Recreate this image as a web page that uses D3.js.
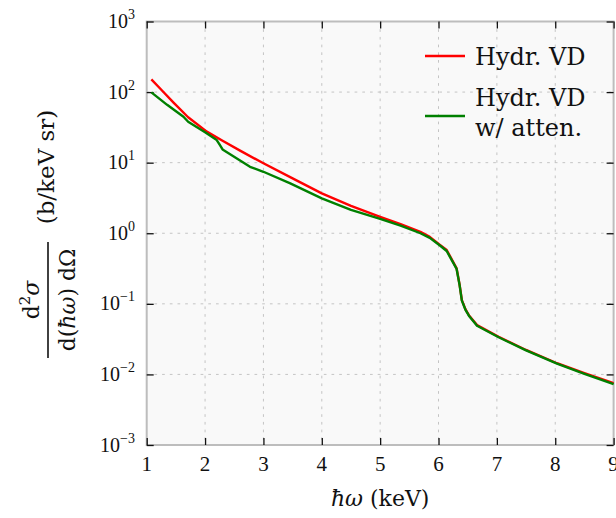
<!DOCTYPE html>
<html>
<head>
<meta charset="utf-8">
<script src="https://cdn.jsdelivr.net/npm/d3@7"></script>
<style>
  html, body { margin: 0; padding: 0; background: #fff; }
  svg { display: block; }
  text { font-family: "Liberation Serif", "DejaVu Serif", serif; fill: #111; }
  text.label { font-family: "DejaVu Serif", "Liberation Serif", serif; }
</style>
</head>
<body>
<svg id="chart" width="616" height="518"></svg>
<script>
// Photon energy (keV) and double-differential cross section (b/keV sr)
const energyVD = [1.08, 1.25, 1.46, 1.71, 2.03, 2.3, 2.6, 3.0, 3.5, 4.0, 4.5, 5.0, 5.35, 5.69, 5.85, 6.03, 6.14, 6.31, 6.36, 6.40, 6.46, 6.52, 6.66, 7.03, 7.5, 8.03, 8.5, 9.0];
const hydrVD   = [151, 108, 71, 44, 27.5, 20.4, 14.8, 9.8, 6.0, 3.67, 2.45, 1.71, 1.35, 1.05, 0.89, 0.68, 0.58, 0.318, 0.19, 0.113, 0.084, 0.069, 0.050, 0.0342, 0.0222, 0.0144, 0.0104, 0.0075];

const energyAtt = [1.08, 1.35, 1.63, 1.71, 2.0, 2.2, 2.25, 2.3, 2.77, 3.0, 3.46, 4.0, 4.5, 5.0, 5.35, 5.69, 5.85, 6.03, 6.14, 6.31, 6.36, 6.40, 6.46, 6.52, 6.66, 7.03, 7.5, 8.03, 8.5, 9.0];
const hydrVDAtt = [99, 66, 44.7, 38, 27, 20.9, 18, 15.4, 8.74, 7.43, 5.09, 3.12, 2.14, 1.6, 1.28, 1.0, 0.86, 0.665, 0.56, 0.312, 0.187, 0.111, 0.083, 0.068, 0.049, 0.0336, 0.0219, 0.0142, 0.0102, 0.0073];

const xTicks = [1, 2, 3, 4, 5, 6, 7, 8, 9];
const yExponents = [-3, -2, -1, 0, 1, 2, 3];

const svg = d3.select("#chart");
const plotLeft = 146.7, plotRight = 613.6, plotTop = 21.5, plotBottom = 445;

const x = d3.scaleLinear().domain([1, 9]).range([plotLeft, plotRight]);
const y = d3.scaleLog().domain([1e-3, 1e3]).range([plotBottom, plotTop]);

// plot background
svg.append("rect")
  .attr("x", plotLeft).attr("y", plotTop)
  .attr("width", plotRight - plotLeft).attr("height", plotBottom - plotTop)
  .attr("fill", "#f9f9f9");

// dashed grid
const grid = svg.append("g").attr("stroke", "#c4c4c4").attr("stroke-width", 1).attr("stroke-dasharray", "2.7,5");
grid.selectAll("line.gx").data(xTicks.slice(1, -1)).join("line")
  .attr("x1", d => x(d)).attr("x2", d => x(d))
  .attr("y1", plotTop).attr("y2", plotBottom);
grid.selectAll("line.gy").data(yExponents.slice(1, -1)).join("line")
  .attr("x1", plotLeft).attr("x2", plotRight)
  .attr("y1", d => y(Math.pow(10, d))).attr("y2", d => y(Math.pow(10, d)));

// frame
svg.append("rect")
  .attr("x", plotLeft).attr("y", plotTop)
  .attr("width", plotRight - plotLeft).attr("height", plotBottom - plotTop)
  .attr("fill", "none").attr("stroke", "#bdbdbd").attr("stroke-width", 2);

// inward ticks on all four sides
const tickLen = 7;
const yVals = yExponents.map(e => Math.pow(10, e));
const axB = d3.axisBottom(x).tickValues(xTicks).tickSizeInner(-tickLen).tickSizeOuter(0).tickFormat("");
const axT = d3.axisTop(x).tickValues(xTicks).tickSizeInner(-tickLen).tickSizeOuter(0).tickFormat("");
const axL = d3.axisLeft(y).tickValues(yVals).tickSizeInner(-tickLen).tickSizeOuter(0).tickFormat("");
const axR = d3.axisRight(y).tickValues(yVals).tickSizeInner(-tickLen).tickSizeOuter(0).tickFormat("");
[[axB, `translate(0,${plotBottom})`], [axT, `translate(0,${plotTop})`],
 [axL, `translate(${plotLeft},0)`], [axR, `translate(${plotRight},0)`]].forEach(([ax, tr]) => {
  const g = svg.append("g").attr("transform", tr).call(ax);
  g.select(".domain").remove();
  g.selectAll(".tick line").attr("stroke", "#111").attr("stroke-width", 1.3);
});

// tick labels
svg.append("g").selectAll("text").data(xTicks).join("text")
  .attr("x", d => x(d)).attr("y", 471)
  .attr("text-anchor", "middle").attr("font-size", 21)
  .text(d => d);

const yl = svg.append("g").selectAll("text").data(yExponents).join("text")
  .attr("x", 135).attr("y", d => y(Math.pow(10, d)) + 6.5)
  .attr("text-anchor", "end").attr("font-size", 20);
yl.append("tspan").text("10");
yl.append("tspan").attr("dy", -9).attr("font-size", 14)
  .text(d => d < 0 ? "\u2212" + Math.abs(d) : d);

// curves
const line = d3.line().x(d => x(d[0])).y(d => y(d[1]));
svg.append("path")
  .datum(energyVD.map((e, i) => [e, hydrVD[i]]))
  .attr("d", line).attr("fill", "none")
  .attr("stroke", "#ff0000").attr("stroke-width", 2.4).attr("stroke-linejoin", "round");
svg.append("path")
  .datum(energyAtt.map((e, i) => [e, hydrVDAtt[i]]))
  .attr("d", line).attr("fill", "none")
  .attr("stroke", "#008000").attr("stroke-width", 2.4).attr("stroke-linejoin", "round");

// legend
const leg = svg.append("g");
leg.append("line").attr("x1", 425).attr("x2", 465).attr("y1", 56).attr("y2", 56)
  .attr("stroke", "#ff0000").attr("stroke-width", 2.4);
leg.append("text").attr("class", "label").attr("x", 475).attr("y", 65).attr("font-size", 24).text("Hydr. VD");
leg.append("line").attr("x1", 425).attr("x2", 465).attr("y1", 116).attr("y2", 116)
  .attr("stroke", "#008000").attr("stroke-width", 2.4);
leg.append("text").attr("class", "label").attr("x", 475).attr("y", 106).attr("font-size", 24).text("Hydr. VD");
leg.append("text").attr("class", "label").attr("x", 475).attr("y", 136).attr("font-size", 24).text("w/ atten.");

// x-axis label
const xl = svg.append("text").attr("class", "label").attr("x", (plotLeft + plotRight) / 2).attr("y", 506)
  .attr("text-anchor", "middle").attr("font-size", 22);
xl.append("tspan").attr("font-style", "italic").text("\u0127\u03c9");
xl.append("tspan").text(" (keV)");

// y-axis label: fraction plus units, rotated
const ylab = svg.append("g").attr("transform", "translate(0,300) rotate(-90)");
ylab.append("line").attr("x1", -58).attr("x2", 58).attr("y1", 48).attr("y2", 48)
  .attr("stroke", "#111").attr("stroke-width", 1.6);
const num = ylab.append("text").attr("class", "label").attr("x", 0).attr("y", 39)
  .attr("text-anchor", "middle").attr("font-size", 22);
num.append("tspan").text("d");
num.append("tspan").attr("dy", -9).attr("font-size", 15).text("2");
num.append("tspan").attr("dy", 9).attr("font-style", "italic").text("\u03c3");
const den = ylab.append("text").attr("class", "label").attr("x", 0).attr("y", 75)
  .attr("text-anchor", "middle").attr("font-size", 22);
den.append("tspan").text("d(");
den.append("tspan").attr("font-style", "italic").text("\u0127\u03c9");
den.append("tspan").text(") d\u03a9");
ylab.append("text").attr("class", "label").attr("x", 133).attr("y", 54)
  .attr("text-anchor", "middle").attr("font-size", 23).text("(b/keV sr)");
</script>
</body>
</html>
